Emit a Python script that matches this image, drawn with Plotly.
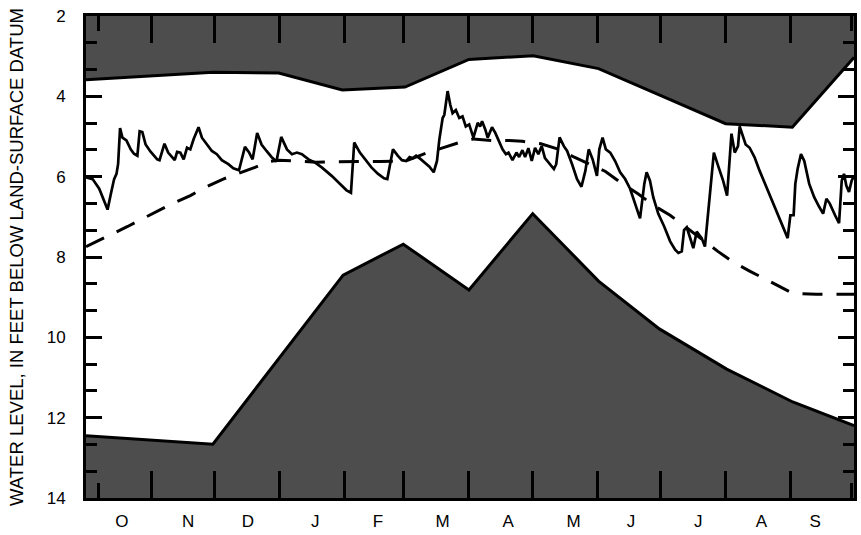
import plotly.graph_objects as go

# ---- data (x = day of water year, Oct 1 = 0; y = feet below land surface) ----
MONTH_BOUNDS = [31, 61, 92, 123, 151, 182, 212, 243, 273, 304, 335]
SHORT_TICKS = [6, 364]
LABEL_DAYS = [17, 48.6, 76.9, 109, 138.8, 169.5, 200.6, 231.7, 259, 291, 321, 346.6]
MONTH_LABELS = ["O", "N", "D", "J", "F", "M", "A", "M", "J", "J", "A", "S"]
Y_TICKS = [2, 4, 6, 8, 10, 12, 14]

UPPER_DAYS = [0, 60.4, 91.6, 121.8, 151.6, 182, 212.5, 243.6, 275.7, 304, 335.7, 365]
UPPER_FT = [3.59, 3.40, 3.42, 3.84, 3.77, 3.08, 2.99, 3.31, 4.04, 4.68, 4.77, 3.03]

LOWER_DAYS = [0, 60.3, 122.2, 150.8, 182, 212.3, 243.6, 272.5, 304.5, 335.9, 365]
LOWER_FT = [12.45, 12.66, 8.45, 7.68, 8.82, 6.92, 8.60, 9.79, 10.79, 11.61, 12.20]

MEDIAN_DAYS = [0, 10.9, 19.8, 26.0, 34.0, 41.1, 49.6, 55.7, 65.2, 72.2, 80.3, 87.3, 91.6,
               109.5, 116.6, 139.8, 152.0, 162.4, 167.1, 177.5, 184.1, 193.1, 201.1, 207.3,
               216.2, 224.7, 231.8, 239.8, 246.9, 254.0, 262.5, 269.6, 277.6, 300.3, 308.3,
               315.4, 324.8, 331.9, 335.7, 347.0, 365]
MEDIAN_FT = [7.74, 7.47, 7.24, 7.07, 6.86, 6.67, 6.47, 6.29, 6.06, 5.93, 5.77, 5.62, 5.59,
             5.64, 5.63, 5.62, 5.61, 5.40, 5.32, 5.15, 5.06, 5.10, 5.10, 5.12,
             5.18, 5.32, 5.51, 5.69, 5.87, 6.14, 6.43, 6.71, 6.96, 7.86, 8.15,
             8.35, 8.60, 8.80, 8.90, 8.93, 8.93]

DAILY_DAYS = [0.0, 3.16, 6.28, 10.25, 11.80, 13.36, 14.49, 15.25, 16.19, 17.33, 19.22, 21.25,
              22.80, 24.41, 25.50, 26.77, 28.33, 30.69, 33.85, 34.94, 37.30, 39.05, 42.16,
              43.30, 44.85, 46.41, 48.02, 49.57, 51.13, 53.49, 55.10, 57.46, 59.82, 62.18,
              64.54, 67.66, 70.02, 72.71, 75.54, 77.43, 79.18, 81.35, 83.43, 85.79, 88.15,
              90.51, 92.78, 95.52, 97.88, 100.24, 102.60, 105.76, 108.92, 112.04, 116.76,
              121.48, 123.84, 125.92, 127.48, 130.17, 132.53, 135.65, 138.81, 141.64, 143.20,
              145.89, 148.25, 150.14, 152.17, 153.78, 155.33, 156.89, 158.50, 160.86, 163.22,
              165.25, 166.81, 167.94, 169.50, 170.30, 171.86, 173.13, 174.22, 175.78, 177.38,
              178.94, 180.50, 182.10, 184.13, 186.16, 187.30, 188.24, 189.80, 190.89, 192.96,
              194.52, 196.41, 197.97, 199.57, 200.80, 202.69, 204.58, 205.85, 207.41, 208.69,
              210.24, 211.85, 213.41, 214.97, 216.57, 218.13, 220.35, 222.38, 223.47, 225.07,
              227.10, 228.66, 231.02, 233.38, 235.46, 237.35, 238.91, 240.80, 242.83, 243.96,
              245.51, 247.07, 249.15, 251.47, 253.87, 256.23, 258.59, 260.95, 263.31, 265.34,
              266.43, 268.03, 269.59, 271.95, 274.79, 277.62, 279.98, 281.54, 283.15, 284.23,
              285.51, 287.40, 288.63, 290.23, 291.46, 292.59, 294.15, 295.71, 296.84, 298.40,
              300.43, 302.79, 304.68, 305.95, 306.76, 308.32, 309.88, 310.67, 311.95, 313.50,
              315.39, 317.75, 320.11, 323.28, 327.19, 330.36, 333.47, 334.75, 336.31, 337.11,
              338.20, 339.80, 341.36, 343.72, 346.08, 348.44, 350.33, 351.89, 353.50, 356.00,
              357.89, 359.17, 360.25, 361.34, 362.61, 363.89, 365.0]
DAILY_FT = [6.02, 6.06, 6.30, 6.82, 6.43, 6.06, 5.93, 5.69, 4.79, 5.03, 5.10, 5.32,
            5.43, 5.48, 4.87, 4.89, 5.20, 5.38, 5.57, 5.59, 5.18, 5.40, 5.59,
            5.38, 5.40, 5.57, 5.28, 5.32, 5.07, 4.77, 5.03, 5.21, 5.36, 5.44,
            5.59, 5.69, 5.79, 5.84, 5.26, 5.39, 5.57, 4.91, 5.20, 5.36, 5.51,
            5.62, 5.01, 5.32, 5.44, 5.40, 5.44, 5.57, 5.65, 5.77, 5.98,
            6.22, 6.34, 6.40, 5.15, 5.40, 5.57, 5.77, 5.93, 6.04, 6.06,
            5.32, 5.48, 5.59, 5.61, 5.51, 5.54, 5.48, 5.54, 5.65, 5.75,
            5.89, 5.61, 5.07, 4.54, 4.46, 3.87, 4.21, 4.42, 4.34, 4.54,
            4.50, 4.75, 4.70, 5.03, 4.66, 4.75, 4.62, 4.83, 5.03, 4.77,
            4.91, 5.12, 5.32, 5.44, 5.40, 5.59, 5.40, 5.51, 5.34, 5.51,
            5.29, 5.61, 5.28, 5.44, 5.24, 5.54, 5.67, 5.81, 5.69, 5.02,
            5.24, 5.36, 5.69, 6.06, 6.25, 5.85, 5.32, 5.57, 5.98, 5.32,
            5.03, 5.32, 5.40, 5.61, 5.89, 6.06, 6.30, 6.67, 7.04, 6.18,
            5.89, 6.10, 6.51, 6.92, 7.24, 7.61, 7.82, 7.90, 7.86, 7.33,
            7.26, 7.57, 7.78, 7.37, 7.45, 7.53, 7.74, 6.84, 6.18, 5.40,
            5.73, 6.10, 6.47, 5.36, 4.93, 5.40, 5.24, 4.75, 4.95, 5.20,
            5.28, 5.52, 5.85, 6.26, 6.75, 7.16, 7.53, 6.96, 6.96, 6.18,
            5.81, 5.44, 5.61, 6.18, 6.51, 6.75, 6.92, 6.55, 6.67, 6.96,
            7.16, 6.10, 5.93, 6.22, 6.38, 6.10, 5.98]

X_MIN, X_MAX = 0, 365
Y_TOP, Y_BOTTOM = 2, 14

FILL = "#4d4d4d"
FONT = "Liberation Sans, Arial, Helvetica, sans-serif"

fig = go.Figure()

# upper shaded band (from chart top down to the shallowest-level line)
fig.add_trace(go.Scatter(
    x=UPPER_DAYS + [X_MAX, X_MIN], y=UPPER_FT + [Y_TOP, Y_TOP],
    fill="toself", fillcolor=FILL, line=dict(width=0), mode="lines",
    hoverinfo="skip", showlegend=False))
fig.add_trace(go.Scatter(x=UPPER_DAYS, y=UPPER_FT, mode="lines",
                         line=dict(color="black", width=3), showlegend=False))

# lower shaded band (from the deepest-level line down to chart bottom)
fig.add_trace(go.Scatter(
    x=LOWER_DAYS + [X_MAX, X_MIN], y=LOWER_FT + [Y_BOTTOM, Y_BOTTOM],
    fill="toself", fillcolor=FILL, line=dict(width=0), mode="lines",
    hoverinfo="skip", showlegend=False))
fig.add_trace(go.Scatter(x=LOWER_DAYS, y=LOWER_FT, mode="lines",
                         line=dict(color="black", width=3), showlegend=False))

# median (dashed)
fig.add_trace(go.Scatter(x=MEDIAN_DAYS, y=MEDIAN_FT, mode="lines", xaxis="x2",
                         line=dict(color="black", width=3, dash="20px,14px"),
                         showlegend=False))

# daily water level
fig.add_trace(go.Scatter(x=DAILY_DAYS, y=DAILY_FT, mode="lines",
                         line=dict(color="black", width=2.7), showlegend=False))

fig.update_layout(
    width=861, height=535,
    margin=dict(l=86, r=4, t=16, b=33),
    paper_bgcolor="white", plot_bgcolor="white",
    font=dict(family=FONT, size=17, color="black"),
    xaxis=dict(
        range=[X_MIN, X_MAX], tickmode="array", tickvals=LABEL_DAYS,
        ticktext=MONTH_LABELS, ticks="", showgrid=False, zeroline=False,
        showline=True, linecolor="black", linewidth=3, mirror=True,
        ticklabelstandoff=6, tickfont=dict(size=17)),
    xaxis2=dict(
        range=[X_MIN, X_MAX], overlaying="x", anchor="y", side="bottom",
        tickmode="array", tickvals=MONTH_BOUNDS, ticks="inside", ticklen=27,
        tickwidth=3, tickcolor="black", showticklabels=False, showgrid=False,
        zeroline=False, showline=False, mirror="ticks",
        minor=dict(tickmode="array", tickvals=SHORT_TICKS, ticks="inside",
                   ticklen=15, tickwidth=3, tickcolor="black", showgrid=False)),
    yaxis=dict(
        range=[Y_BOTTOM, Y_TOP], tickmode="array", tickvals=Y_TICKS,
        ticks="inside", ticklen=16, tickwidth=3, tickcolor="black",
        showgrid=False, zeroline=False, showline=True, linecolor="black",
        linewidth=3, mirror="ticks", ticklabelstandoff=14,
        tickfont=dict(size=17),
        minor=dict(dtick=2 / 3, tick0=2, ticks="inside", ticklen=11,
                   tickwidth=3, tickcolor="black", showgrid=False),
        title=dict(text="WATER LEVEL, IN FEET BELOW LAND-SURFACE DATUM",
                   font=dict(size=18.5), standoff=19)),
)

fig.write_html("out.html", config={"displayModeBar": False},
               post_script="document.body.style.margin='0';")
